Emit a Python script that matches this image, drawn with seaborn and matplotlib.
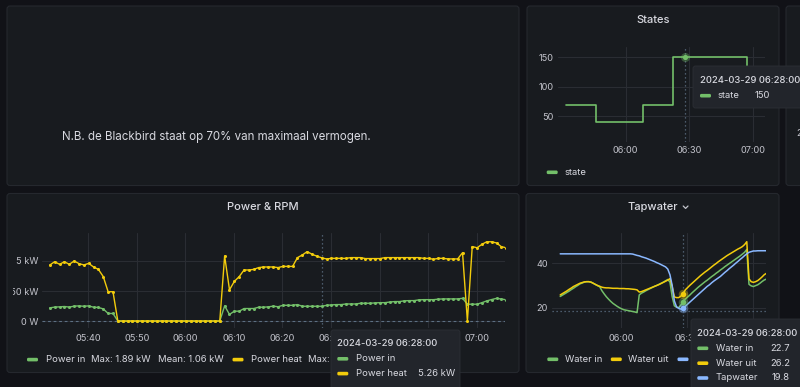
import pandas as pd
import seaborn as sns
import matplotlib.pyplot as plt
import matplotlib.dates as mdates
from matplotlib.patches import FancyBboxPatch
from matplotlib.transforms import Bbox

# one sample per minute, 05:32 .. 07:06
times = pd.date_range('2024-03-29 05:32:05', periods=95, freq='min')

power_in = [
    1.10, 1.16, 1.18, 1.21, 1.16, 1.24, 1.26, 1.23, 1.26, 1.15,
    1.13, 1.01, 0.63, 0.63, 0, 0, 0, 0, 0, 0,
    0, 0, 0, 0, 0, 0, 0, 0, 0, 0,
    0, 0, 0, 0, 0, 0, 1.26, 0.55, 0.82, 0.82,
    1.04, 1.04, 1.04, 1.15, 1.15, 1.18, 1.24, 1.19, 1.31, 1.31,
    1.31, 1.37, 1.23, 1.23, 1.23, 1.23, 1.23, 1.31, 1.34, 1.37,
    1.37, 1.42, 1.42, 1.42, 1.48, 1.48, 1.48, 1.51, 1.53, 1.53,
    1.58, 1.62, 1.62, 1.68, 1.70, 1.70, 1.76, 1.78, 1.78, 1.78,
    1.82, 1.84, 1.84, 1.84, 1.84, 1.89, 1.40, 1.40, 1.40, 1.53,
    1.68, 1.79, 1.89, 1.83, 1.77,
]
power_heat = [
    4.67, 4.94, 4.72, 4.94, 4.72, 5.00, 4.78, 4.67, 4.80, 4.50,
    4.30, 3.70, 2.44, 2.44, 0, 0, 0, 0, 0, 0,
    0, 0, 0, 0, 0, 0, 0, 0, 0, 0,
    0, 0, 0, 0, 0, 0, 5.42, 2.60, 3.30, 3.70,
    4.25, 4.25, 4.30, 4.45, 4.50, 4.50, 4.50, 4.45, 4.55, 4.55,
    4.55, 5.28, 5.50, 5.78, 5.56, 5.40, 5.26, 5.17, 5.22, 5.22,
    5.22, 5.22, 5.28, 5.28, 5.28, 5.20, 5.20, 5.20, 5.20, 5.28,
    5.28, 5.28, 5.28, 5.28, 5.28, 5.28, 5.28, 5.22, 5.22, 5.14,
    5.22, 5.22, 5.17, 5.17, 5.17, 5.69, 0, 6.20, 6.10, 6.39,
    6.60, 6.60, 6.50, 6.19, 6.10,
]
state = [
    70, 70, 70, 70, 70, 70, 70, 70, 70, 70,
    70, 70, 70, 70, 40, 40, 40, 40, 40, 40,
    40, 40, 40, 40, 40, 40, 40, 40, 40, 40,
    40, 40, 40, 40, 40, 40, 70, 70, 70, 70,
    70, 70, 70, 70, 70, 70, 70, 70, 70, 70,
    150, 150, 150, 150, 150, 150, 150, 150, 150, 150,
    150, 150, 150, 150, 150, 150, 150, 150, 150, 150,
    150, 150, 150, 150, 150, 150, 150, 150, 150, 150,
    150, 150, 150, 150, 150, 70, 70, 70, 70, 70,
    70, 70, 70, 70, 70,
]
water_in = [
    25.0, 25.6, 26.2, 26.8, 27.4, 28.1, 28.7, 29.4, 30.0, 30.7,
    31.1, 31.5, 31.7, 31.7, 31.5, 31.0, 30.4, 29.9, 29.4, 27.6,
    26.2, 24.9, 23.8, 22.8, 21.9, 21.2, 20.5, 19.9, 19.4, 19.0,
    18.8, 18.6, 18.4, 18.2, 18.0, 17.7, 25.7, 26.5, 27.0, 27.6,
    28.1, 28.6, 29.1, 29.6, 30.0, 30.5, 31.0, 31.5, 32.1, 32.7,
    31.5, 25.0, 20.8, 20.1, 20.0, 21.2, 22.7, 23.8, 24.7, 25.6,
    26.6, 27.5, 28.4, 29.3, 30.1, 30.9, 31.7, 32.4, 33.2, 34.0,
    34.7, 35.5, 36.2, 37.0, 37.7, 38.5, 39.2, 39.9, 40.6, 41.3,
    42.0, 42.7, 43.4, 44.2, 45.0, 46.3, 30.5, 29.8, 29.5, 29.9,
    30.3, 31.0, 31.8, 32.5, 32.9,
]
water_uit = [
    25.7, 26.3, 26.9, 27.5, 28.2, 28.8, 29.5, 30.0, 30.5, 31.0,
    31.3, 31.6, 31.7, 31.7, 31.5, 31.0, 30.5, 30.0, 29.6, 29.2,
    29.0, 28.9, 28.9, 28.8, 28.7, 28.7, 28.7, 28.6, 28.6, 28.6,
    28.5, 28.5, 28.4, 28.3, 28.2, 28.0, 27.0, 27.2, 27.6, 28.0,
    28.4, 28.8, 29.2, 29.6, 30.0, 30.4, 30.9, 31.4, 31.9, 32.4,
    33.1, 29.5, 24.8, 24.5, 24.5, 25.2, 26.2, 28.0, 29.0, 30.0,
    30.9, 31.8, 32.7, 33.6, 34.5, 35.3, 36.1, 36.8, 37.6, 38.4,
    39.2, 39.9, 40.7, 41.4, 42.1, 42.8, 43.5, 44.1, 44.7, 45.3,
    45.9, 46.5, 47.0, 47.6, 48.5, 49.8, 33.0, 31.7, 31.4, 31.7,
    32.2, 33.0, 33.9, 34.9, 35.5,
]
tapwater = [
    44.3, 44.3, 44.3, 44.3, 44.3, 44.3, 44.3, 44.3, 44.3, 44.3,
    44.3, 44.3, 44.3, 44.3, 44.3, 44.3, 44.3, 44.3, 44.3, 44.3,
    44.3, 44.3, 44.3, 44.3, 44.3, 44.3, 44.3, 44.3, 44.3, 44.3,
    44.3, 44.3, 44.3, 44.2, 43.9, 43.6, 43.4, 43.0, 42.7, 42.4,
    42.0, 41.6, 41.2, 40.8, 40.3, 39.9, 39.4, 38.9, 38.4, 37.4,
    34.8, 30.0, 23.0, 20.3, 19.6, 19.3, 19.8, 20.6, 21.5, 22.4,
    23.3, 24.2, 25.1, 26.0, 26.9, 27.8, 28.7, 29.6, 30.3, 31.2,
    32.0, 32.7, 33.4, 34.1, 35.0, 35.9, 36.7, 37.6, 38.4, 39.2,
    40.1, 40.9, 41.8, 42.6, 43.5, 44.3, 45.0, 45.3, 45.6, 45.6,
    45.7, 45.7, 45.7, 45.7, 45.7,
]
hover = 56          # sample under the mouse, 06:28
cursor_temp = 18.5  # mouse height in the Tapwater panel

df = pd.DataFrame({'time': times, 'power_in': power_in, 'power_heat': power_heat,
                   'state': state, 'water_in': water_in, 'water_uit': water_uit,
                   'tapwater': tapwater})

W, H = 800, 387
CANVAS, PANEL, BORDER = '#111217', '#181b1f', '#25282e'
GRID, TXT, TICK, CROSS, TIP = '#2a2d33', '#d8d9e0', '#c3c4cc', '#5d7083', '#22252b'
GREEN, YELLOW, BLUE = '#73bf69', '#f2cc0c', '#8ab8ff'
FS_TICK, FS_LEG, FS_TITLE, FS_TIP = 6.6, 6.8, 8.0, 6.8

sns.set_theme(style='dark')
plt.rcParams['font.family'] = ['Inter', 'DejaVu Sans']

T0 = pd.Timestamp('2024-03-29 06:00')


def tm(minutes):
    return T0 + pd.Timedelta(minutes=minutes)


fig = plt.figure(figsize=(W / 100, H / 100), dpi=100, facecolor=CANVAS)

bg = fig.add_axes([0, 0, 1, 1], zorder=0)
bg.set_xlim(0, W); bg.set_ylim(H, 0); bg.axis('off')
ov = fig.add_axes([0, 0, 1, 1], zorder=5)
ov.set_xlim(0, W); ov.set_ylim(H, 0); ov.axis('off')


def panel(x0, y0, x1, y1):
    bg.add_patch(FancyBboxPatch((x0, y0), x1 - x0, y1 - y0,
                                boxstyle='round,pad=0,rounding_size=3',
                                fc=PANEL, ec=BORDER, lw=0.8))


panel(7, 6, 519, 185.5)      # text panel
panel(527, 6, 779, 185.5)    # States
panel(786, 6, 830, 185.5)    # next panel, cut off
panel(7, 193.5, 519, 372.5)  # Power & RPM
panel(526, 193.5, 779, 372.5)  # Tapwater

bg.text(61.7, 137.3, 'N.B. de Blackbird staat op 70% van maximaal vermogen.',
        fontsize=8.3, color=TXT, va='center', ha='left')
bg.text(796.6, 133, '2', fontsize=FS_TICK, color=TICK, va='center', ha='left')


def plot_axes(x0, y0, x1, y1):
    return fig.add_axes([x0 / W, 1 - y1 / H, (x1 - x0) / W, (y1 - y0) / H], zorder=1)


def style(ax, xlim, ylim, xt, yt, ylab, xpad, ypad):
    ax.set_facecolor('none')
    for sp in ax.spines.values():
        sp.set_visible(False)
    ax.set_xlim(*xlim)
    ax.set_ylim(*ylim)
    ax.set_xticks(xt)
    ax.xaxis.set_major_formatter(mdates.DateFormatter('%H:%M'))
    ax.set_yticks(yt, ylab)
    ax.grid(True, color=GRID, lw=0.8)
    ax.set_axisbelow(True)
    ax.tick_params(axis='both', length=0, labelsize=FS_TICK, labelcolor=TICK)
    ax.tick_params(axis='x', pad=xpad)
    ax.tick_params(axis='y', pad=ypad)
    ax.set_xlabel('')
    ax.set_ylabel('')


def crosshair(ax):
    ax.axvline(times[hover], color=CROSS, lw=0.9, ls=(0, (1, 2.2)), zorder=2.5)


# ---- Power & RPM
ax_p = plot_axes(42, 233, 505, 328)
ax_p.axhline(0, color=CROSS, lw=0.8, ls=(0, (2.5, 2.5)), zorder=1.5)
for col, c in [('power_in', GREEN), ('power_heat', YELLOW)]:
    sns.lineplot(data=df, x='time', y=col, ax=ax_p, color=c, linewidth=1.0,
                 marker='o', markersize=2.2, markeredgewidth=0, mec=c,
                 errorbar=None, legend=False, zorder=3)
style(ax_p, (tm(-29.536), tm(65.83)), (-0.58, 7.33),
      [tm(m) for m in range(-20, 61, 10)], [0, 2.5, 5], ['0 W', '2.50 kW', '5 kW'],
      4.3, 2.7)
crosshair(ax_p)
clip = Bbox.from_extents(13, 0, W, H)
for lab in ax_p.get_yticklabels():
    lab.set_clip_on(True)
    lab.set_clip_box(clip)

# ---- States
ax_s = plot_axes(558.3, 46.7, 765, 141.7)
sns.lineplot(data=df, x='time', y='state', ax=ax_s, color=GREEN, linewidth=1.2,
             drawstyle='steps-post', errorbar=None, legend=False, zorder=3)
style(ax_s, (tm(-31.77), tm(65.65)), (7, 168),
      [tm(0), tm(30), tm(60)], [50, 100, 150], ['50', '100', '150'], 3.3, 3.6)
crosshair(ax_s)
ax_s.scatter([times[hover]], [state[hover]], s=42, color=GREEN, alpha=0.35, lw=0, zorder=4)
ax_s.scatter([times[hover]], [state[hover]], s=14, color=GREEN, lw=0, zorder=5)

# ---- Tapwater
ax_t = plot_axes(551.7, 233.3, 765.7, 328.3)
for col, c in [('water_in', GREEN), ('water_uit', YELLOW), ('tapwater', BLUE)]:
    sns.lineplot(data=df, x='time', y=col, ax=ax_t, color=c, linewidth=1.1,
                 errorbar=None, legend=False, zorder=3)
style(ax_t, (tm(-31.8), tm(65.7)), (10.6, 53.6),
      [tm(0), tm(30), tm(60)], [20, 40], ['20', '40'], 4.1, 2.9)
crosshair(ax_t)
ax_t.axhline(cursor_temp, color=CROSS, lw=0.9, ls=(0, (1, 2.2)), zorder=2.5)
for col, c in [('water_in', GREEN), ('water_uit', YELLOW), ('tapwater', BLUE)]:
    ax_t.scatter([times[hover]], [df[col][hover]], s=48, color=c, alpha=0.35, lw=0, zorder=4)
    ax_t.scatter([times[hover]], [df[col][hover]], s=16, color=c, lw=0, zorder=5)


# ---- titles, legends, tooltips (pixel coordinates)
def swatch(x, y, c, z=3):
    ov.add_patch(FancyBboxPatch((x, y - 1.8), 11, 3.6, boxstyle='round,pad=0,rounding_size=1.4',
                                fc=c, ec='none', zorder=z))


def label(x, y, s, size=FS_LEG, color=TXT, z=3, ha='left', **kw):
    ov.text(x, y, s, fontsize=size, color=color, va='center', ha=ha, zorder=z, **kw)


label(263, 207.3, 'Power & RPM', FS_TITLE, ha='center', fontweight='medium')
label(652.7, 20, 'States', FS_TITLE, ha='center', fontweight='medium')
label(652.8, 207.3, 'Tapwater', FS_TITLE, ha='center', fontweight='medium')
ov.plot([683.2, 685.6, 688], [206.0, 208.4, 206.0], color=TICK, lw=0.9, zorder=3)

pin, pheat = pd.Series(power_in), pd.Series(power_heat)
swatch(27, 359.6, GREEN)
label(45.7, 359.6, 'Power in')
label(90.7, 359.6, f'Max: {pin.max():.2f} kW')
label(158.3, 359.6, f'Mean: {pin.mean():.2f} kW')
swatch(232.5, 359.6, YELLOW)
label(250.7, 359.6, 'Power heat')
label(308.3, 359.6, f'Max: {pheat.max():.2f} kW  Mean: {pheat.mean():.2f} kW')

swatch(546.7, 172.3, GREEN)
label(565, 172.3, 'state')

swatch(547.3, 359.3, GREEN)
label(565, 359.3, 'Water in')
swatch(610.8, 359.3, YELLOW)
label(628.3, 359.3, 'Water uit')
swatch(677.5, 359.3, BLUE)
label(695.5, 359.3, 'Tapwater')

stamp = times[hover].strftime('%Y-%m-%d %H:%M:00')


def tip_box(x0, y0, x1, y1):
    ov.add_patch(FancyBboxPatch((x0, y0), x1 - x0, y1 - y0, boxstyle='round,pad=0,rounding_size=2.5',
                                fc=TIP, ec='#2c2f35', lw=0.6, zorder=10))


tip_box(331, 330, 460, 395)
label(337.3, 344, stamp, FS_TIP, z=11, fontweight='medium')
swatch(337.3, 358.8, GREEN, z=11)
label(355.7, 358.8, 'Power in', FS_TIP, z=11)
swatch(337.3, 373.6, YELLOW, z=11)
label(355.7, 373.6, 'Power heat', FS_TIP, z=11)
label(455, 373.6, f'{power_heat[hover]:.2f} kW', FS_TIP, z=11, ha='right')

tip_box(693, 66, 812, 108)
label(700, 80.3, stamp, FS_TIP, z=11, fontweight='medium')
swatch(700, 95.7, GREEN, z=11)
label(717.7, 95.7, 'state', FS_TIP, z=11)
label(754.3, 95.7, f'{state[hover]}', FS_TIP, z=11)

tip_box(691, 319, 812, 395)
label(697.3, 333.3, stamp, FS_TIP, z=11, fontweight='medium')
for yy, col, name, c in [(348.3, 'water_in', 'Water in', GREEN),
                         (363.2, 'water_uit', 'Water uit', YELLOW),
                         (378, 'tapwater', 'Tapwater', BLUE)]:
    swatch(697.3, yy, c, z=11)
    label(715.7, yy, name, FS_TIP, z=11)
    label(790, yy, f'{df[col][hover]:.1f}', FS_TIP, z=11, ha='right')

fig.savefig('out.png', dpi=100, facecolor=CANVAS)
plt.close(fig)
